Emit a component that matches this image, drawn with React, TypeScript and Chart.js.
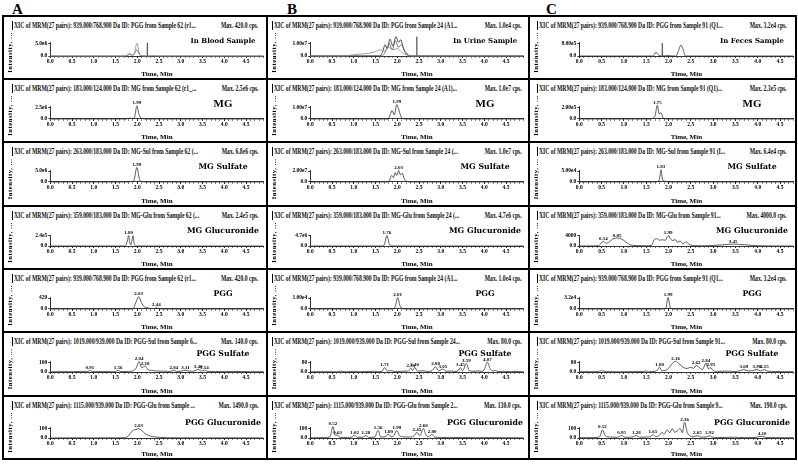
import React, { useEffect, useRef } from 'react';
import { Chart, registerables } from 'chart.js';
Chart.register(...registerables);

type Pt = [number, number];
type Peak = [number, number, string];

// ---------- shared labels ----------
const COLUMN_LETTERS = ['A', 'B', 'C'];
const TIME_TICKS = [0, 0.5, 1, 1.5, 2, 2.5, 3, 3.5, 4, 4.5];
const TIME_LABELS = ['0.0', '0.5', '1.0', '1.5', '2.0', '2.5', '3.0', '3.5', '4.0', '4.5'];
const ROW_NAMES_A = ['In Blood Sample', 'MG', 'MG Sulfate', 'MG Glucuronide', 'PGG', 'PGG Sulfate', 'PGG Glucuronide'];
const ROW_NAMES_B = ['In Urine Sample', 'MG', 'MG Sulfate', 'MG Glucuronide', 'PGG', 'PGG Sulfate', 'PGG Glucuronide'];
const ROW_NAMES_C = ['In Feces Sample', 'MG', 'MG Sulfate', 'MG Glucuronide', 'PGG', 'PGG Sulfate', 'PGG Glucuronide'];

const HEAD_A = [
  'XIC of MRM(27 pairs): 939.000/768.900 Da ID: PGG from Sample 62 (r1...',
  'XIC of MRM(27 pairs): 183.000/124.000 Da ID: MG from Sample 62 (r1_...',
  'XIC of MRM(27 pairs): 263.000/183.000 Da ID: MG-Sul from Sample 62 (...',
  'XIC of MRM(27 pairs): 359.000/183.000 Da ID: MG-Glu from Sample 62 (...',
  'XIC of MRM(27 pairs): 939.000/768.900 Da ID: PGG from Sample 62 (r1...',
  'XIC of MRM(27 pairs): 1019.000/939.000 Da ID: PGG-Sul from Sample 6...',
  'XIC of MRM(27 pairs): 1115.000/939.000 Da ID: PGG-Glu from Sample ...',
];
const HEAD_B = [
  'XIC of MRM(27 pairs): 939.000/768.900 Da ID: PGG from Sample 24 (A1...',
  'XIC of MRM(27 pairs): 183.000/124.000 Da ID: MG from Sample 24 (A1)...',
  'XIC of MRM(27 pairs): 263.000/183.000 Da ID: MG-Sul from Sample 24 (...',
  'XIC of MRM(27 pairs): 359.000/183.000 Da ID: MG-Glu from Sample 24 (...',
  'XIC of MRM(27 pairs): 939.000/768.900 Da ID: PGG from Sample 24 (A1...',
  'XIC of MRM(27 pairs): 1019.000/939.000 Da ID: PGG-Sul from Sample 24...',
  'XIC of MRM(27 pairs): 1115.000/939.000 Da ID: PGG-Glu from Sample 2...',
];
const HEAD_C = [
  'XIC of MRM(27 pairs): 939.000/768.900 Da ID: PGG from Sample 91 (Q1...',
  'XIC of MRM(27 pairs): 183.000/124.000 Da ID: MG from Sample 91 (Q1)...',
  'XIC of MRM(27 pairs): 263.000/183.000 Da ID: MG-Sul from Sample 91 (I...',
  'XIC of MRM(27 pairs): 359.000/183.000 Da ID: MG-Glu from Sample 91...',
  'XIC of MRM(27 pairs): 939.000/768.900 Da ID: PGG from Sample 91 (Q1...',
  'XIC of MRM(27 pairs): 1019.000/939.000 Da ID: PGG-Sul from Sample 91...',
  'XIC of MRM(27 pairs): 1115.000/939.000 Da ID: PGG-Glu from Sample 9...',
];
const MAX_A = ['Max. 420.0 cps.', 'Max. 2.5e6 cps.', 'Max. 6.8e6 cps.', 'Max. 2.4e5 cps.', 'Max. 420.0 cps.', 'Max. 140.0 cps.', 'Max. 1490.0 cps.'];
const MAX_B = ['Max. 1.0e4 cps.', 'Max. 1.0e7 cps.', 'Max. 1.0e7 cps.', 'Max. 4.7e6 cps.', 'Max. 1.0e4 cps.', 'Max. 80.0 cps.', 'Max. 130.0 cps.'];
const MAX_C = ['Max. 3.2e4 cps.', 'Max. 2.3e5 cps.', 'Max. 6.4e4 cps.', 'Max. 4000.0 cps.', 'Max. 3.2e4 cps.', 'Max. 80.0 cps.', 'Max. 190.0 cps.'];

const TICK_A = [5.0e6, 2.5e6, 5.0e6, 2.4e5, 420, 100, 100];
const TICK_B = [1.0e7, 1.0e7, 2.0e7, 4.7e6, 1.0e4, 80, 100];
const TICK_C = [8.0e5, 2.0e5, 5.0e4, 4000, 3.2e4, 80, 100];
const TICKLBL_A = ['5.0e6', '2.5e6', '5.0e6', '2.4e5', '420', '100', '100'];
const TICKLBL_B = ['1.00e7', '1.00e7', '2.00e7', '4.7e6', '1.00e4', '80', '100'];
const TICKLBL_C = ['8.00e5', '2.00e5', '5.00e4', '4000', '3.2e4', '80', '100'];

// ---------- column A: blood ----------
const bloodXic1: Pt[] = [[0, 0], [1.7, 0], [1.76, 0.3e6], [1.82, 1.1e6], [1.88, 0.3e6], [1.93, 0.6e6], [1.99, 5.2e6], [2.05, 0.8e6], [2.1, 0.1e6], [2.3, 0], [2.36, 0.2e6], [2.42, 0], [4.9, 0]];
const bloodXic2: Pt[] = [[0, 0], [1.75, 0], [1.82, 0.6e6], [1.9, 0.4e6], [1.99, 2.5e6], [2.06, 0.4e6], [2.15, 0], [4.9, 0]];
const bloodXicMark: Pt[] = [[2.23, 0], [2.23, 5.3e6]];
const bloodMG: Pt[] = [[0, 0], [1.75, 0], [1.82, 0.2e6], [1.88, 0.05e6], [1.94, 0.5e6], [1.99, 2.85e6], [2.04, 1.0e6], [2.09, 0.15e6], [2.2, 0], [4.9, 0]];
const bloodMGSul: Pt[] = [[0, 0], [1.8, 0], [1.86, 0.2e6], [1.92, 0.6e6], [1.99, 6.6e6], [2.05, 1.2e6], [2.1, 0.2e6], [2.2, 0], [4.9, 0]];
const bloodMGGlu: Pt[] = [[0, 0], [0.45, 0], [0.5, 0.03e5], [0.55, 0], [1.72, 0], [1.77, 1.2e5], [1.80, 2.5e5], [1.83, 0.6e5], [1.85, 0.3e5], [1.88, 1.5e5], [1.90, 2.45e5], [1.93, 0.6e5], [1.97, 0], [4.9, 0]];
const bloodPGG: Pt[] = [[0, 0], [1.85, 0], [1.92, 60], [1.98, 300], [2.03, 470], [2.08, 300], [2.14, 120], [2.22, 50], [2.3, 20], [2.38, 15], [2.44, 45], [2.5, 10], [2.6, 0], [4.9, 0]];
const bloodPGGSul: Pt[] = [[0, 2], [0.3, 4], [0.5, 3], [0.7, 6], [0.85, 3], [0.91, 16], [0.97, 3], [1.2, 5], [1.4, 3], [1.5, 6], [1.56, 17], [1.62, 4], [1.8, 6], [1.9, 12], [1.97, 40], [2.04, 110], [2.1, 45], [2.18, 62], [2.25, 25], [2.35, 15], [2.5, 10], [2.6, 8], [2.75, 6], [2.84, 18], [2.9, 6], [3.0, 8], [3.11, 18], [3.2, 8], [3.3, 10], [3.40, 28], [3.47, 10], [3.54, 20], [3.6, 8], [3.8, 5], [4.0, 7], [4.2, 4], [4.4, 6], [4.6, 3], [4.9, 4]];
const bloodPGGGlu: Pt[] = [[0, 0], [0.5, 2], [1.0, 1], [1.5, 2], [1.72, 3], [1.78, 15], [1.85, 55], [1.92, 85], [1.97, 88], [2.03, 100], [2.1, 80], [2.17, 50], [2.25, 28], [2.35, 15], [2.45, 10], [2.55, 6], [2.7, 3], [3.0, 2], [3.5, 1], [4.0, 2], [4.9, 1]];

const bloodXicPeaks: Peak[] = [];
const bloodMGPeaks: Peak[] = [[1.99, 2.85e6, '1.99']];
const bloodMGSulPeaks: Peak[] = [[1.99, 6.6e6, '1.99']];
const bloodMGGluPeaks: Peak[] = [[1.80, 2.5e5, '1.80']];
const bloodPGGPeaks: Peak[] = [[2.03, 470, '2.03'], [2.44, 45, '2.44']];
const bloodPGGSulPeaks: Peak[] = [[0.91, 16, '0.91'], [1.56, 17, '1.56'], [2.04, 110, '2.04'], [2.18, 62, '2.18'], [2.84, 18, '2.84'], [3.11, 18, '3.11'], [3.40, 28, '3.40'], [3.54, 20, '3.54']];
const bloodPGGGluPeaks: Peak[] = [[2.03, 100, '2.03']];

// ---------- column B: urine ----------
const urineXic1: Pt[] = [[0, 0], [0.8, 0], [0.9, 0.05e7], [1.1, 0.15e7], [1.3, 0.2e7], [1.5, 0.35e7], [1.6, 0.5e7], [1.7, 0.4e7], [1.8, 0.7e7], [1.9, 0.5e7], [2.0, 0.6e7], [2.1, 0.3e7], [2.2, 0.1e7], [2.3, 0], [4.9, 0]];
const urineXic2: Pt[] = [[0, 0], [1.6, 0], [1.66, 0.3e7], [1.72, 0.9e7], [1.77, 0.6e7], [1.83, 1.35e7], [1.9, 0.8e7], [1.97, 1.55e7], [2.03, 1.1e7], [2.08, 1.3e7], [2.14, 0.6e7], [2.22, 0.2e7], [2.3, 0], [4.9, 0]];
const urineXic3: Pt[] = [[0, 0], [1.65, 0], [1.75, 0.5e7], [1.82, 1.0e7], [1.88, 0.5e7], [1.96, 1.2e7], [2.02, 0.7e7], [2.1, 0.9e7], [2.18, 0.3e7], [2.28, 0], [4.9, 0]];
const urineXicMark: Pt[] = [[2.45, 0], [2.45, 1.55e7]];
const urineMG: Pt[] = [[0, 0], [1.78, 0], [1.84, 0.4e7], [1.88, 0.74e7], [1.93, 0.35e7], [1.99, 1.25e7], [2.05, 0.6e7], [2.1, 0.1e7], [2.2, 0], [4.9, 0]];
const urineMGSul: Pt[] = [[0, 0], [1.75, 0], [1.82, 0.3e7], [1.87, 1.2e7], [1.91, 0.8e7], [1.95, 1.7e7], [1.99, 1.2e7], [2.03, 2.1e7], [2.07, 1.3e7], [2.11, 1.6e7], [2.16, 0.6e7], [2.22, 0.1e7], [2.3, 0], [4.9, 0]];
const urineMGGlu: Pt[] = [[0, 0], [1.65, 0], [1.7, 0.5e6], [1.76, 4.9e6], [1.82, 0.8e6], [1.88, 0.1e6], [2.0, 0], [4.9, 0]];
const urinePGG: Pt[] = [[0, 0], [1.9, 0], [1.95, 0.2e4], [2.01, 1.05e4], [2.06, 0.3e4], [2.12, 0.05e4], [2.2, 0], [4.9, 0]];
const urinePGGSul: Pt[] = [[0, 2], [0.3, 3], [0.6, 2], [0.7, 8], [0.8, 2], [1.05, 6], [1.15, 2], [1.45, 6], [1.55, 3], [1.65, 6], [1.71, 38], [1.77, 8], [1.85, 12], [1.95, 4], [2.1, 6], [2.2, 8], [2.26, 10], [2.31, 32], [2.35, 14], [2.40, 40], [2.46, 8], [2.6, 10], [2.7, 4], [2.8, 12], [2.88, 44], [2.95, 10], [3.05, 24], [3.12, 6], [3.25, 8], [3.35, 4], [3.40, 14], [3.45, 36], [3.5, 10], [3.59, 72], [3.65, 12], [3.75, 6], [3.85, 10], [3.95, 6], [4.01, 30], [4.07, 84], [4.13, 30], [4.2, 8], [4.25, 14], [4.32, 4], [4.45, 6], [4.6, 3], [4.75, 4], [4.9, 2]];
const urinePGGGlu: Pt[] = [[0, 2], [0.3, 4], [0.45, 10], [0.52, 120], [0.57, 30], [0.63, 30], [0.68, 8], [0.85, 6], [0.95, 10], [1.02, 30], [1.08, 8], [1.2, 8], [1.28, 25], [1.35, 6], [1.48, 10], [1.56, 80], [1.62, 12], [1.72, 14], [1.80, 40], [1.86, 14], [1.93, 30], [1.99, 80], [2.05, 25], [2.15, 12], [2.3, 10], [2.4, 30], [2.45, 60], [2.52, 25], [2.6, 100], [2.66, 30], [2.73, 15], [2.8, 40], [2.86, 10], [3.0, 6], [3.2, 4], [3.5, 6], [3.8, 3], [4.1, 5], [4.4, 3], [4.9, 2]];

const urineXicPeaks: Peak[] = [];
const urineMGPeaks: Peak[] = [[1.99, 1.25e7, '1.99']];
const urineMGSulPeaks: Peak[] = [[2.03, 2.1e7, '2.03']];
const urineMGGluPeaks: Peak[] = [[1.76, 4.9e6, '1.76']];
const urinePGGPeaks: Peak[] = [[2.01, 1.05e4, '2.01']];
const urinePGGSulPeaks: Peak[] = [[1.71, 38, '1.71'], [2.31, 32, '2.31'], [2.40, 40, '2.40'], [2.88, 44, '2.88'], [3.05, 24, '3.05'], [3.45, 36, '3.45'], [3.59, 72, '3.59'], [4.07, 84, '4.07']];
const urinePGGGluPeaks: Peak[] = [[0.52, 120, '0.52'], [0.63, 30, '0.63'], [1.02, 30, '1.02'], [1.28, 25, '1.28'], [1.56, 80, '1.56'], [1.80, 40, '1.80'], [1.99, 80, '1.99'], [2.45, 60, '2.45'], [2.60, 100, '2.60'], [2.80, 40, '2.80']];

// ---------- column C: feces ----------
const fecesXic1: Pt[] = [[0, 0], [1.65, 0], [1.72, 2.4e5], [1.78, 0.5e5], [1.85, 0], [2.0, 0.3e5], [2.08, 0], [2.17, 0], [2.22, 3e5], [2.28, 7e5], [2.33, 4e5], [2.38, 0], [4.8, 0]];
const fecesXicMark: Pt[] = [[1.86, 0], [1.86, 8.2e5]];
const fecesMG: Pt[] = [[0, 0], [1.6, 0], [1.66, 0.2e5], [1.7, 0.6e5], [1.75, 2.4e5], [1.79, 0.9e5], [1.83, 1.1e5], [1.88, 0.2e5], [1.95, 0], [4.8, 0]];
const fecesMGSul: Pt[] = [[0, 0], [1.7, 0], [1.76, 0.3e4], [1.8, 1.5e4], [1.83, 5.5e4], [1.87, 1.0e4], [1.92, 0.3e4], [2.0, 0], [4.8, 0]];
const fecesMGGlu: Pt[] = [[0, 0], [0.3, 50], [0.42, 100], [0.48, 900], [0.54, 1900], [0.6, 1100], [0.66, 1500], [0.75, 2800], [0.85, 3200], [0.95, 2800], [1.05, 1500], [1.15, 400], [1.3, 150], [1.5, 100], [1.62, 300], [1.68, 2500], [1.74, 2900], [1.8, 2300], [1.86, 2500], [1.93, 2300], [1.99, 4200], [2.05, 2700], [2.1, 2200], [2.15, 2600], [2.2, 1500], [2.26, 2000], [2.32, 900], [2.4, 1600], [2.46, 700], [2.55, 150], [2.8, 80], [3.0, 200], [3.2, 450], [3.45, 750], [3.7, 500], [3.9, 200], [4.1, 50], [4.8, 0]];
const fecesPGG: Pt[] = [[0, 0], [1.88, 0], [1.94, 0.3e4], [1.99, 3.3e4], [2.04, 0.5e4], [2.1, 0], [4.8, 0]];
const fecesPGGSul: Pt[] = [[0, 2], [0.4, 3], [0.5, 10], [0.6, 3], [0.9, 2], [1.2, 3], [1.45, 4], [1.5, 10], [1.55, 3], [1.7, 6], [1.76, 20], [1.80, 40], [1.85, 10], [1.95, 15], [2.02, 40], [2.08, 70], [2.16, 90], [2.22, 75], [2.28, 55], [2.35, 35], [2.42, 30], [2.5, 40], [2.56, 30], [2.62, 55], [2.7, 35], [2.76, 20], [2.84, 75], [2.89, 30], [2.95, 35], [3.0, 12], [3.1, 5], [3.3, 8], [3.5, 4], [3.6, 10], [3.69, 20], [3.78, 10], [3.9, 12], [3.98, 22], [4.06, 10], [4.15, 20], [4.22, 8], [4.4, 4], [4.6, 3], [4.8, 3]];
const fecesPGGGlu: Pt[] = [[0, 3], [0.3, 4], [0.45, 10], [0.52, 85], [0.58, 25], [0.7, 10], [0.85, 8], [0.95, 25], [1.02, 8], [1.15, 8], [1.28, 25], [1.35, 8], [1.5, 10], [1.6, 15], [1.65, 35], [1.72, 15], [1.8, 30], [1.85, 60], [1.9, 40], [1.97, 85], [2.03, 55], [2.08, 100], [2.14, 60], [2.2, 75], [2.26, 100], [2.31, 55], [2.36, 165], [2.42, 60], [2.48, 25], [2.55, 12], [2.65, 25], [2.72, 10], [2.85, 10], [2.92, 25], [2.98, 8], [3.2, 5], [3.5, 8], [3.7, 4], [3.95, 6], [4.1, 20], [4.18, 6], [4.4, 4], [4.6, 3], [4.8, 4]];

const fecesXicPeaks: Peak[] = [];
const fecesMGPeaks: Peak[] = [[1.75, 2.4e5, '1.75']];
const fecesMGSulPeaks: Peak[] = [[1.83, 5.5e4, '1.83']];
const fecesMGGluPeaks: Peak[] = [[0.54, 1900, '0.54'], [0.85, 3200, '0.85'], [1.99, 4200, '1.99'], [3.45, 750, '3.45']];
const fecesPGGPeaks: Peak[] = [[1.99, 3.3e4, '1.99']];
const fecesPGGSulPeaks: Peak[] = [[1.80, 40, '1.80'], [2.16, 90, '2.16'], [2.62, 55, '2.62'], [2.84, 75, '2.84'], [2.95, 35, '2.95'], [3.69, 20, '3.69'], [3.98, 22, '3.98'], [4.15, 20, '4.15']];
const fecesPGGGluPeaks: Peak[] = [[0.52, 85, '0.52'], [0.95, 25, '0.95'], [1.28, 25, '1.28'], [1.65, 35, '1.65'], [2.36, 165, '2.36'], [2.65, 25, '2.65'], [2.92, 25, '2.92'], [4.10, 20, '4.10']];

// ---------- assembly ----------
interface PanelDef {
  head: string; max: string; tick: number; tickLabel: string; name: string;
  traces: Pt[][]; mark?: Pt[]; peaks: Peak[];
}

const TRACES_A: Pt[][][] = [[bloodXic1, bloodXic2], [bloodMG], [bloodMGSul], [bloodMGGlu], [bloodPGG], [bloodPGGSul], [bloodPGGGlu]];
const TRACES_B: Pt[][][] = [[urineXic1, urineXic3, urineXic2], [urineMG], [urineMGSul], [urineMGGlu], [urinePGG], [urinePGGSul], [urinePGGGlu]];
const TRACES_C: Pt[][][] = [[fecesXic1], [fecesMG], [fecesMGSul], [fecesMGGlu], [fecesPGG], [fecesPGGSul], [fecesPGGGlu]];
const PEAKS_A = [bloodXicPeaks, bloodMGPeaks, bloodMGSulPeaks, bloodMGGluPeaks, bloodPGGPeaks, bloodPGGSulPeaks, bloodPGGGluPeaks];
const PEAKS_B = [urineXicPeaks, urineMGPeaks, urineMGSulPeaks, urineMGGluPeaks, urinePGGPeaks, urinePGGSulPeaks, urinePGGGluPeaks];
const PEAKS_C = [fecesXicPeaks, fecesMGPeaks, fecesMGSulPeaks, fecesMGGluPeaks, fecesPGGPeaks, fecesPGGSulPeaks, fecesPGGGluPeaks];
const MARKS = [bloodXicMark, urineXicMark, fecesXicMark];

function buildColumn(heads: string[], maxes: string[], ticks: number[], tl: string[], names: string[], traces: Pt[][][], peaks: Peak[][], mark: Pt[]): PanelDef[] {
  return heads.map((h, i) => ({
    head: h, max: maxes[i], tick: ticks[i], tickLabel: tl[i], name: names[i],
    traces: traces[i], peaks: peaks[i], mark: i === 0 ? mark : undefined,
  }));
}

const PANELS: PanelDef[][] = [
  buildColumn(HEAD_A, MAX_A, TICK_A, TICKLBL_A, ROW_NAMES_A, TRACES_A, PEAKS_A, MARKS[0]),
  buildColumn(HEAD_B, MAX_B, TICK_B, TICKLBL_B, ROW_NAMES_B, TRACES_B, PEAKS_B, MARKS[1]),
  buildColumn(HEAD_C, MAX_C, TICK_C, TICKLBL_C, ROW_NAMES_C, TRACES_C, PEAKS_C, MARKS[2]),
];

// ---------- layout (styling) ----------
const COLS = [
  { left: 3, width: 264, x0: 50.3, ppm: 43.5, xmax: 4.9, mark: 8.5, right: 8.5, letterX: 12 },
  { left: 267, width: 262, x0: 310.3, ppm: 43.5, xmax: 4.9, mark: 4.5, right: 7.5, letterX: 287 },
  { left: 529, width: 267, x0: 579.3, ppm: 44.6, xmax: 4.8, mark: 7.5, right: 9, letterX: 546 },
];
const ROW_TOPS = [16, 79, 142, 206, 269, 332, 396];
const ROW_H = [63, 63, 64, 63, 63, 64, 63];
const BASE_OFF = [40, 40, 40, 40, 40, 40, 42];
const TICK_PX = [12.5, 11.5, 11, 10, 11, 9.5, 9.5];
const LABEL_UP = [15, 15, 15, 15, 15, 18.5, 15];
const HEADER_H = 14;
const TRACE_COLORS_MULTI = ['#888', '#555', '#222'];
const SERIF = '"Liberation Serif", "Times New Roman", serif';

function labelFont(row: number): string {
  if (row === 0) return 'bold 7px "DejaVu Serif"';
  if (row === 1) return 'bold 11px "Liberation Serif"';
  return 'bold 7.8px "DejaVu Serif"';
}

function PanelChart({ p, ci, ri }: { p: PanelDef; ci: number; ri: number }) {
  const ref = useRef<HTMLCanvasElement>(null);
  const col = COLS[ci];
  const top = ROW_TOPS[ri];
  const h = ROW_H[ri];
  const cw = col.width - 2;
  const ch = h - 2 - HEADER_H;
  useEffect(() => {
    const canvas = ref.current;
    if (!canvas) return;
    const canvasTop = top + 1 + HEADER_H;
    const canvasLeft = col.left + 1;
    const base = top + BASE_OFF[ri] - canvasTop;
    const tickPx = TICK_PX[ri];
    const yScaleMax = p.tick * 1.06;
    const areaTop = base - tickPx * 1.06;
    const yw = col.x0 - canvasLeft;
    const areaRight = col.x0 + col.xmax * col.ppm - canvasLeft;
    const multi = p.traces.length > 1;
    const datasets: any[] = p.traces.map((tr, i) => ({
      data: tr.map(([x, y]) => ({ x, y })),
      borderColor: multi ? TRACE_COLORS_MULTI[i % 3] : '#333',
      borderWidth: 0.8,
      pointRadius: 0,
      cubicInterpolationMode: 'monotone',
      clip: false,
      fill: false,
    }));
    if (p.mark) {
      datasets.push({
        data: p.mark.map(([x, y]) => ({ x, y })),
        borderColor: '#111', borderWidth: 0.9, pointRadius: 0, clip: false, fill: false,
      });
    }
    // axis decoration: unlabeled minor ticks every 0.1 min between the labelled ones
    const minorTicks: number[] = [];
    for (let k = 0; k * 0.1 <= col.xmax + 1e-9; k++) minorTicks.push(Math.round(k) / 10);
    const lf = labelFont(ri);
    const labelUp = LABEL_UP[ri];
    const decor = {
      id: 'decor',
      afterDraw(chart: any) {
        const { ctx, scales } = chart;
        const xs = scales.x, ys = scales.y;
        const b = ys.getPixelForValue(0);
        ctx.save();
        ctx.fillStyle = '#000';
        ctx.font = 'bold 5px ' + SERIF;
        ctx.textAlign = 'center';
        ctx.textBaseline = 'alphabetic';
        for (const [t, v, lab] of p.peaks) {
          ctx.fillText(lab, xs.getPixelForValue(t), ys.getPixelForValue(v) - 1.5);
        }
        ctx.font = lf;
        ctx.textBaseline = 'middle';
        ctx.fillText(p.name, chart.width - 43, b - labelUp);
        ctx.font = 'bold 6.5px ' + SERIF;
        try { (ctx as any).letterSpacing = '0.6px'; } catch (e) { /* ignore */ }
        ctx.translate(6.5, chart.height / 2 - 2);
        ctx.rotate(-Math.PI / 2);
        ctx.fillText('Intensity, ...', 0, 0);
        ctx.restore();
      },
    };
    const tickFont = { family: SERIF, size: 5.5, weight: 'bold' as const };
    const isMajor = (v: number) => TIME_TICKS.some((t) => Math.abs(t - v) < 1e-6);
    const chart = new Chart(canvas, {
      type: 'line',
      data: { datasets },
      options: {
        animation: false,
        responsive: false,
        maintainAspectRatio: false,
        events: [],
        layout: { padding: { top: areaTop, right: cw - areaRight, left: 0, bottom: 0 } },
        plugins: { legend: { display: false }, tooltip: { enabled: false } },
        scales: {
          x: {
            type: 'linear', min: 0, max: col.xmax,
            afterBuildTicks: (s: any) => { s.ticks = minorTicks.map((v) => ({ value: v })); },
            afterFit: (s: any) => { s.height = ch - base; },
            ticks: {
              font: tickFont, color: '#000', padding: 0, maxRotation: 0, autoSkip: false,
              callback: (v: any) => {
                const i = TIME_TICKS.findIndex((t) => Math.abs(t - Number(v)) < 1e-6);
                return i >= 0 ? TIME_LABELS[i] : '';
              },
            },
            grid: {
              drawOnChartArea: false, drawTicks: true, tickLength: 2,
              tickColor: (c: any) => (c.tick && isMajor(c.tick.value) ? '#222' : '#888'),
            },
            border: { display: true, color: '#333', width: 1 },
            title: { display: true, text: 'Time, Min', font: { family: SERIF, size: 7, weight: 'bold' }, color: '#000', padding: 0 },
          },
          y: {
            type: 'linear', min: 0, max: yScaleMax,
            afterBuildTicks: (s: any) => { s.ticks = [{ value: 0 }, { value: p.tick }]; },
            afterFit: (s: any) => { s.width = yw; },
            ticks: {
              font: tickFont, color: '#000', padding: 1,
              callback: (v: any) => (Number(v) === 0 ? '0.0' : p.tickLabel),
            },
            grid: { drawOnChartArea: false, drawTicks: true, tickLength: 2, color: '#333' },
            border: { display: true, color: '#333', width: 1 },
          },
        },
      } as any,
      plugins: [decor],
    });
    return () => chart.destroy();
  }, []);

  const headStyle: React.CSSProperties = {
    position: 'absolute', top: 2, whiteSpace: 'nowrap', fontFamily: SERIF, fontWeight: 'bold',
    fontSize: 9, lineHeight: '12px', color: '#111',
  };
  return (
    <div style={{ position: 'absolute', left: col.left, top, width: col.width, height: h, border: '1px solid #000', boxSizing: 'border-box', overflow: 'hidden' }}>
      <div style={{ position: 'absolute', left: col.mark - 1, top: 4, width: 1.5, height: 9, background: '#000' }} />
      <div style={{ ...headStyle, left: col.mark + 1, transform: 'scaleX(0.63)', transformOrigin: 'left center' }}>{p.head}</div>
      <div style={{ ...headStyle, right: col.right - 1, transform: 'scaleX(0.63)', transformOrigin: 'right center' }}>{p.max}</div>
      <canvas ref={ref} width={cw} height={ch} style={{ position: 'absolute', left: 0, top: HEADER_H, width: cw, height: ch }} />
    </div>
  );
}

export default function App() {
  return (
    <div style={{ position: 'absolute', left: 0, top: 0, width: 798, height: 466, background: '#fff', overflow: 'hidden' }}>
      {COLS.map((c, ci) => (
        <div key={'L' + ci} style={{ position: 'absolute', left: c.letterX, top: 0, fontFamily: SERIF, fontWeight: 'bold', fontSize: 15, lineHeight: '18px', color: '#000' }}>{COLUMN_LETTERS[ci]}</div>
      ))}
      {COLS.map((c, ci) => (
        <div key={'F' + ci} style={{ position: 'absolute', left: c.left - 1, top: ROW_TOPS[0] - 1, width: c.width + 2, height: 459 - ROW_TOPS[0] + 2, border: '1px solid #000', boxSizing: 'border-box' }} />
      ))}
      {PANELS.map((col, ci) => col.map((p, ri) => <PanelChart key={ci + '-' + ri} p={p} ci={ci} ri={ri} />))}
    </div>
  );
}
